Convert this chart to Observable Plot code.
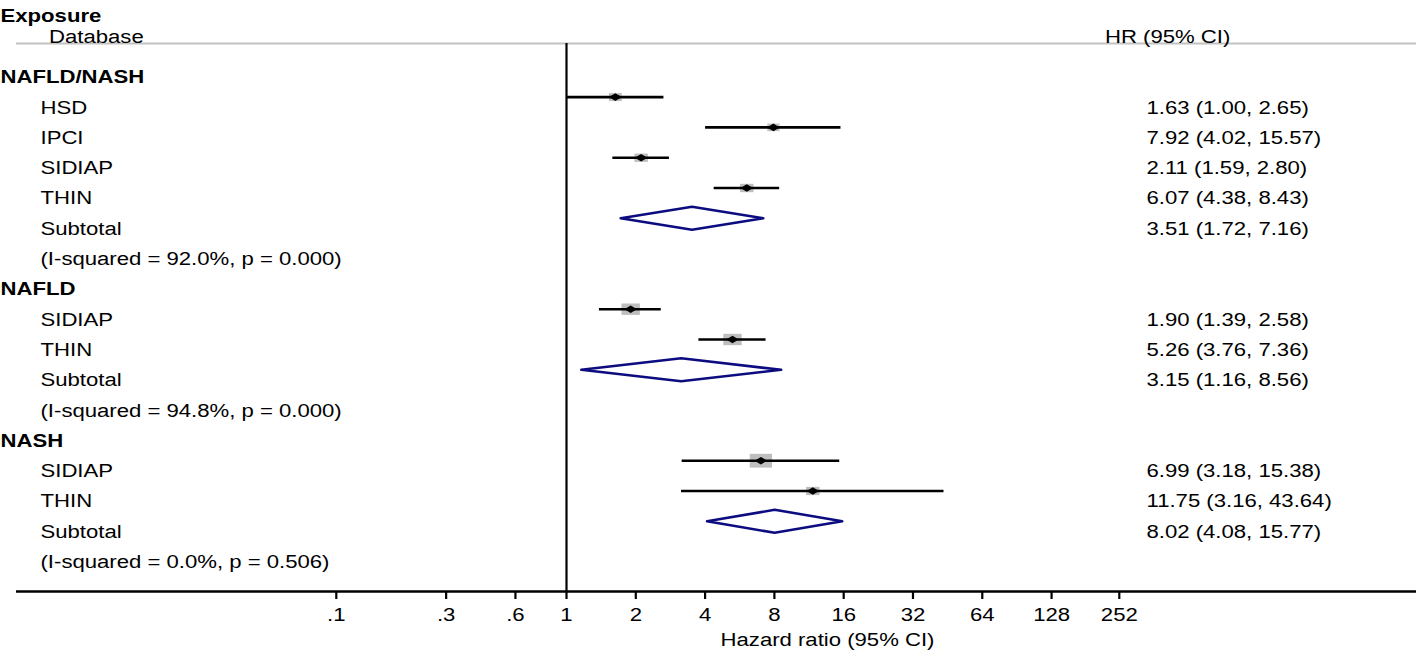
<!DOCTYPE html>
<html><head><meta charset="utf-8">
<script src="https://cdn.jsdelivr.net/npm/d3@7"></script>
<script src="https://cdn.jsdelivr.net/npm/@observablehq/plot@0.6"></script>
<style>html,body{margin:0;padding:0;background:#fff;} #chart svg{display:block;}</style>
</head><body><div id="chart"></div>
<script>
// ---- data ----
const groupNames = ["NAFLD/NASH", "NAFLD", "NASH"];
const databases = [["HSD", "IPCI", "SIDIAP", "THIN"], ["SIDIAP", "THIN"], ["SIDIAP", "THIN"]];
const studyHR = [[1.63, 7.92, 2.11, 6.07], [1.90, 5.26], [6.99, 11.75]];
const studyLower = [[1.00, 4.02, 1.59, 4.38], [1.39, 3.76], [3.18, 3.16]];
const studyUpper = [[2.65, 15.57, 2.80, 8.43], [2.58, 7.36], [15.38, 43.64]];
const studyWeight = [[24.5, 21.9, 26.6, 27.0], [50.1, 49.9], [73.5, 26.5]];
const subtotalHR = [3.51, 3.15, 8.02];
const subtotalLower = [1.72, 1.16, 4.08];
const subtotalUpper = [7.16, 8.56, 15.77];
const iSquared = ["92.0%", "94.8%", "0.0%"];
const pHet = ["0.000", "0.000", "0.506"];
const tickValues = [0.1, 0.3, 0.6, 1, 2, 4, 8, 16, 32, 64, 128, 252];
const tickLabels = [".1", ".3", ".6", "1", "2", "4", "8", "16", "32", "64", "128", "252"];
const axisTitle = "Hazard ratio (95% CI)";

// ---- layout ----
const W = 1416, H = 657, frameBottom = 591, mLeft = 16;
const onePx = 566, pxPerDecade = 230.2;
const rowPx = 30.3, firstRowPx = 66.3;
const toRow = px => (px - firstRowPx) / rowPx;
const headerRuleRow = toRow(43);
const axisRow = toRow(frameBottom);
const tickEndRow = toRow(frameBottom + 8);
const diamondHalf = 11.5 / rowPx;
const textDy = 10.7;
const STRETCH = 1.23;

// ---- build rows ----
const headers = [], studies = [], subtotals = [], notes = [];
let r = 0;
groupNames.forEach((g, gi) => {
  headers.push({row: r++, label: g});
  databases[gi].forEach((db, j) => {
    studies.push({row: r++, label: db, hr: studyHR[gi][j], lo: studyLower[gi][j], hi: studyUpper[gi][j], w: studyWeight[gi][j]});
  });
  subtotals.push({row: r++, label: "Subtotal", hr: subtotalHR[gi], lo: subtotalLower[gi], hi: subtotalUpper[gi], g: gi});
  notes.push({row: r++, label: `(I-squared = ${iSquared[gi]}, p = ${pHet[gi]})`});
});
const diamondPts = subtotals.flatMap(s => [
  {x: s.lo, y: s.row, g: s.g},
  {x: s.hr, y: s.row - diamondHalf, g: s.g},
  {x: s.hi, y: s.row, g: s.g},
  {x: s.hr, y: s.row + diamondHalf, g: s.g}
]);
const fmt = d => `${d.hr.toFixed(2)} (${d.lo.toFixed(2)}, ${d.hi.toFixed(2)})`;

const boxSymbol = {draw(ctx, size) { const q = Math.sqrt(size / Math.PI); const h = q * 0.62; ctx.rect(-q, -h, 2 * q, 2 * h); }};
const pointSymbol = {draw(ctx, size) { const q = Math.sqrt(size / Math.PI); const h = q * 0.6;
  ctx.moveTo(-q, 0); ctx.lineTo(0, -h); ctx.lineTo(q, 0); ctx.lineTo(0, h); ctx.closePath(); }};

const chart = Plot.plot({
  width: W, height: H,
  marginLeft: mLeft, marginRight: 0, marginTop: 0, marginBottom: H - frameBottom,
  style: {fontFamily: "'Liberation Sans', Arial, Helvetica, sans-serif", fontSize: "18px", color: "#000", background: "#fff", overflow: "visible"},
  x: {type: "log", domain: [10 ** ((mLeft - onePx) / pxPerDecade), 10 ** ((W - onePx) / pxPerDecade)], axis: null},
  y: {domain: [toRow(0), axisRow], range: [0, frameBottom], axis: null},
  r: {type: "sqrt", domain: [0, 100], range: [0, 13]},
  marks: [
    Plot.ruleY([headerRuleRow], {y: d => d, stroke: "#c2c2c2", strokeWidth: 2}),
    Plot.ruleX([1], {x: d => d, y1: headerRuleRow, y2: axisRow, stroke: "#000", strokeWidth: 2.2}),
    Plot.ruleY([axisRow], {y: d => d, stroke: "#000", strokeWidth: 2.4}),
    Plot.ruleX(tickValues, {x: d => d, y1: axisRow, y2: tickEndRow, stroke: "#000", strokeWidth: 2.2}),
    Plot.text(tickValues, {x: d => d, text: (d, i) => tickLabels[i], frameAnchor: "bottom", dy: 29.7, fill: "#000"}),
    Plot.text([axisTitle], {text: d => d, frameAnchor: "bottom", dx: 827 - (mLeft + W) / 2, dy: 54.7, fill: "#000"}),
    // study boxes, CI lines, point markers
    Plot.dot(studies, {x: "hr", y: "row", r: "w", symbol: boxSymbol, fill: "#bebebe", stroke: "none"}),
    Plot.ruleY(studies, {y: "row", x1: "lo", x2: "hi", stroke: "#000", strokeWidth: 2.6}),
    Plot.dot(studies, {x: "hr", y: "row", r: 6.3, symbol: pointSymbol, fill: "#000", stroke: "none"}),
    // subtotal diamonds
    Plot.line(diamondPts, {x: "x", y: "y", z: "g", curve: "linear-closed", stroke: "#0c0c80", strokeWidth: 2.6, fill: "none"}),
    // header texts
    Plot.text(["Exposure"], {text: d => d, frameAnchor: "top-left", textAnchor: "start", dx: -mLeft, dy: 9.2, fontWeight: "bold", fill: "#000"}),
    Plot.text(["Database"], {text: d => d, frameAnchor: "top-left", textAnchor: "start", dx: 48.5 - mLeft, dy: 29.7, fill: "#000"}),
    Plot.text(["HR (95% CI)"], {text: d => d, frameAnchor: "top-right", textAnchor: "start", dx: 1104.5 - W, dy: 29.7, fill: "#000"}),
    // left column
    Plot.text(headers, {y: "row", text: "label", frameAnchor: "left", textAnchor: "start", dx: -mLeft, dy: textDy, fontWeight: "bold", fill: "#000"}),
    Plot.text([...studies, ...subtotals, ...notes], {y: "row", text: "label", frameAnchor: "left", textAnchor: "start", dx: 40 - mLeft, dy: textDy, fill: "#000"}),
    // right column
    Plot.text([...studies, ...subtotals], {y: "row", text: fmt, frameAnchor: "right", textAnchor: "start", dx: 1146 - W, dy: textDy, fill: "#000"})
  ]
});

// horizontally stretch glyphs to match the reference's wide type
chart.querySelectorAll("text").forEach(t => {
  const x = t.getAttribute("x");
  if (x != null && !isNaN(+x)) t.setAttribute("x", +x / STRETCH);
  const tr = t.getAttribute("transform") || "";
  t.setAttribute("transform", (tr + ` scale(${STRETCH},1)`).trim());
});
document.getElementById("chart").appendChild(chart);
</script>
</body></html>
